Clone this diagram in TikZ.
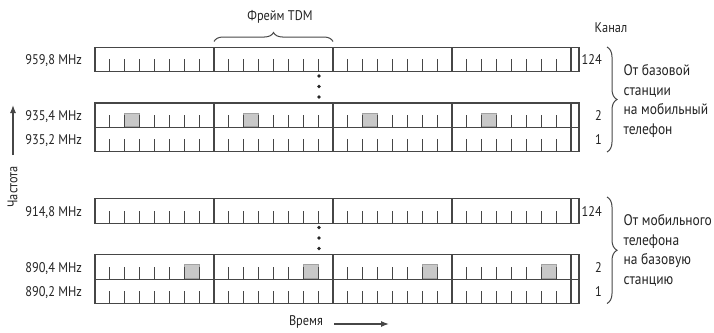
\documentclass[tikz,border=0pt]{standalone}
\usepackage{fontspec}
\setmainfont{PT Sans}[FakeStretch=0.88]
\usetikzlibrary{decorations.pathreplacing,arrows.meta}
\definecolor{ln}{RGB}{70,70,70}
\definecolor{tx}{RGB}{35,35,35}
\definecolor{sh}{RGB}{200,200,200}
\tikzset{
  lbl/.style={font=\fontsize{14}{19.5}\selectfont, text=tx, inner sep=0pt},
  biglbl/.style={font=\fontsize{15.3}{19.5}\selectfont, text=tx, inner sep=0pt},
  rowline/.style={draw=ln, line width=1.3pt},
  tickline/.style={draw=ln, line width=1.1pt},
  shadebox/.style={fill=sh, draw=ln!50, line width=0.7pt},
  bracestyle/.style={draw=ln, line width=1pt, decorate},
  dotmark/.style={circle, fill=black!85, inner sep=0pt, minimum size=3.6pt},
  axisarrow/.style={draw=ln, line width=1.2pt, -{Latex[length=8pt,width=6pt]}},
}
% #1 top, #2 bottom, #3 shaded slot (0-based, -1 = none)
\newcommand\chanrow[3]{%
  \draw[rowline] (95,#1) rectangle (579,#2);
  \ifnum#3>-1
    \foreach \f in {0,...,3}{%
      \draw[shadebox] ({95+119*\f+14.875*#3},{#1+10}) rectangle ({95+119*\f+14.875*(#3+1)},{#2-1});
    }%
  \fi
  \foreach \f in {1,...,4}{%
    \draw[rowline] ({95+119*\f},#1) -- ({95+119*\f},#2);
  }%
  \foreach \f in {0,...,3}{%
    \foreach \s in {1,...,7}{%
      \draw[tickline] ({95+119*\f+14.875*\s},#2) -- ++(0,-12.5);
    }%
  }%
}
\begin{document}
\begin{tikzpicture}[x=1pt,y=-1pt]
\useasboundingbox (0,0) rectangle (714,332);

% rows
\chanrow{47.3}{71.3}{-1}
\chanrow{103}{127.5}{2}
\chanrow{127.5}{151.5}{-1}
\chanrow{198.5}{223.3}{-1}
\chanrow{254.5}{279.3}{6}
\chanrow{279.3}{303.3}{-1}

% frequency labels
\node[lbl, anchor=base east] (f1) at (82,64.5) {959,8 MHz};
\node[lbl, anchor=base east] (f2) at (82,120) {935,4 MHz};
\node[lbl, anchor=base east] (f3) at (82,144) {935,2 MHz};
\node[lbl, anchor=base east] (f4) at (82,216) {914,8 MHz};
\node[lbl, anchor=base east] (f5) at (82,272) {890,4 MHz};
\node[lbl, anchor=base east] (f6) at (82,296) {890,2 MHz};

% channel numbers
\node[lbl, anchor=base east] (c1) at (602,64) {124};
\node[lbl, anchor=base east] (c2) at (602,120) {2};
\node[lbl, anchor=base east] (c3) at (602,144) {1};
\node[lbl, anchor=base east] (c4) at (602,216) {124};
\node[lbl, anchor=base east] (c5) at (602,272) {2};
\node[lbl, anchor=base east] (c6) at (602,296) {1};

\node[lbl] (kanal) at (611,28) {Канал};
\node[lbl] (frame) at (280,17) {Фрейм TDM};

% dots
\node[dotmark] (d1) at (319,76) {};
\node[dotmark] (d2) at (319,86.5) {};
\node[dotmark] (d3) at (319,97) {};
\node[dotmark] (d4) at (319,227.5) {};
\node[dotmark] (d5) at (319,238) {};
\node[dotmark] (d6) at (319,248.5) {};

% braces
\coordinate (b1s) at (214,41.5);
\coordinate (b1e) at (333,41.5);
\draw[bracestyle, decoration={brace, amplitude=9pt}] (b1s) -- (b1e);
\coordinate (b2s) at (607,47);
\coordinate (b2e) at (607,152);
\draw[bracestyle, decoration={brace, amplitude=10pt}] (b2s) -- (b2e);
\coordinate (b3s) at (607,197);
\coordinate (b3e) at (607,303.5);
\draw[bracestyle, decoration={brace, amplitude=10pt}] (b3s) -- (b3e);

% multi-line nodes: base anchor = baseline of the last line
\node[biglbl, anchor=base west, align=left] (t1) at (623.5,134) {От базовой\\станции\\на мобильный\\телефон};
\node[biglbl, anchor=base west, align=left] (t2) at (623.5,284) {От мобильного\\телефона\\на базовую\\станцию};

% axes
\coordinate (fa) at (13,155);
\coordinate (fb) at (13,105);
\draw[axisarrow] (fa) -- (fb);
\node[lbl, rotate=90] (freq) at (12.5,187) {Частота};

\node[lbl] (time) at (306,322) {Время};
\coordinate (ta) at (334,324);
\coordinate (tb) at (389,324);
\draw[axisarrow] (ta) -- (tb);
\end{tikzpicture}
\end{document}
